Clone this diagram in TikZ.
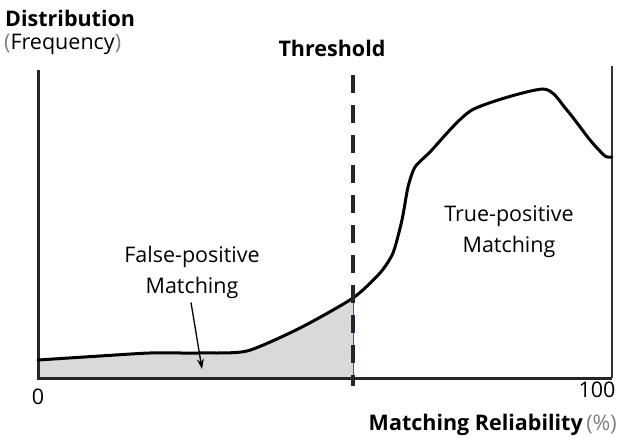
\documentclass[tikz,border=0pt]{standalone}
\usepackage{fontspec}
\setmainfont{Open Sans}
\usetikzlibrary{arrows.meta}

% distribution curve (pixel-like units, y pointing down)
\def\relcurve{plot[smooth, tension=0.4] coordinates {(38,360) (100,356) (150,353) (200,353) (247,351) (300,328) (353,298) (380,273) (393,253) (402,220) (408,187) (415,167) (430,152) (472,110) (543,89) (566,109) (590,140) (605,156) (612,157)}}

\begin{document}
\begin{tikzpicture}[
  x=1pt, y=-1pt,
  lbl/.style={font=\fontsize{21.5}{31}\selectfont, inner sep=0pt, align=center},
  hd/.style={font=\fontsize{21.5}{26}\selectfont\bfseries, inner sep=0pt},
  axis/.style={line width=3pt, draw=black!85},
  curve/.style={line width=3pt, line join=round, line cap=round},
  arr/.style={-{Stealth[length=10pt,width=7pt]}, line width=1.3pt}
]
\useasboundingbox (0,0) rectangle (622,441);

% Axis points
\coordinate (O) at (38,378);
\coordinate (ytop) at (38,70);
\coordinate (xend) at (612,378);
\coordinate (rtop) at (612,66);
\coordinate (thtop) at (353,75);
\coordinate (thbot) at (353,386);

% Shaded false-positive area
\begin{scope}
  \clip (38,0) rectangle (353,378);
  \fill[gray!30] \relcurve -- (612,378) -- (38,378) -- cycle;
\end{scope}
\draw[blue!50!black!70, line width=1pt] (38,360) -- (38,377) -- (353,377) -- (353,298);

% Axes
\draw[axis] (ytop) -- (O) -- (xend);
\draw[black!80, line width=1.6pt] (rtop) -- (xend);

% Curve
\draw[curve] \relcurve;

% Threshold
\draw[line width=3.5pt, black!85, dash pattern=on 18pt off 12pt] (thtop) -- (thbot);
\node[hd, anchor=base] (thr) at (332,57) {Threshold};

% Axis labels
\node[hd, anchor=base west] (ylab) at (5,27) {Distribution};
\node[lbl, anchor=base west] (yunit) at (4,50) {\textcolor{gray}{(}Frequency\textcolor{gray}{)}};
\node[lbl, anchor=base] (zero) at (38,404) {0};
\node[lbl, anchor=base] (hundred) at (597,397) {100};
\node[hd, anchor=base east] (xlab) at (617,430) {Matching Reliability\,\textcolor{gray}{\mdseries(\%)}};

% Region labels
\node[lbl] (fp) at (192,272) {False-positive\\Matching};
\node[lbl] (tp) at (509,232) {True-positive\\Matching};

% Arrow into shaded area
\coordinate (fptip) at (202,369);
\draw[arr] ([xshift=-1pt,yshift=-4pt]fp.south) -- (fptip);

\end{tikzpicture}
\end{document}
